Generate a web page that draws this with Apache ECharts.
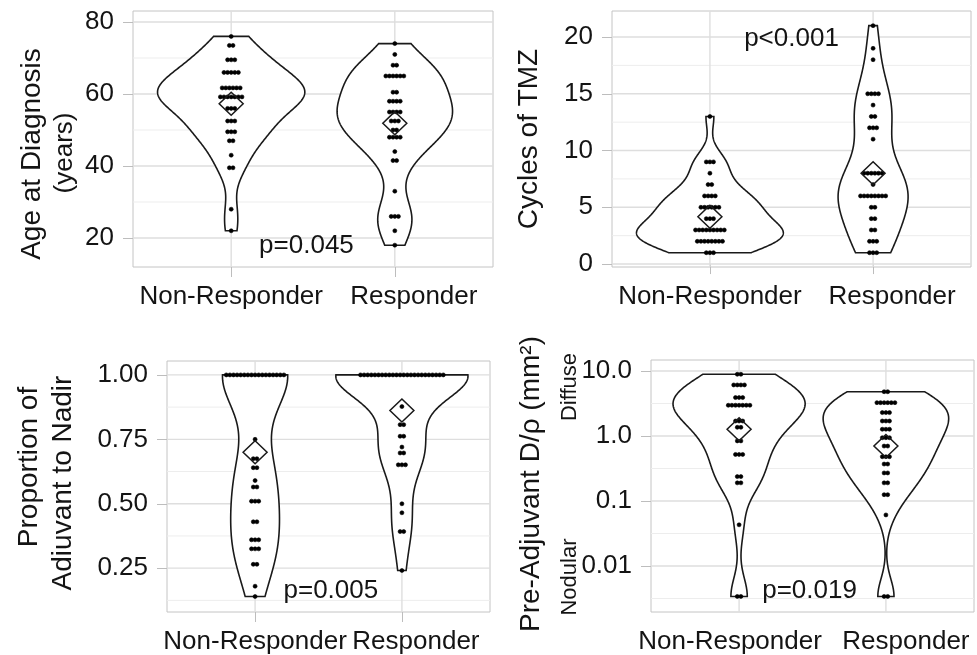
<!DOCTYPE html>
<html>
<head>
<meta charset="utf-8">
<title>Responders vs Non-Responders</title>
<script src="https://cdn.jsdelivr.net/npm/echarts@6/dist/echarts.min.js"></script>
<style>
  html, body { margin: 0; padding: 0; background: #fff; }
  #chart { width: 977px; height: 655px; }
</style>
</head>
<body>
<div id="chart"></div>
<script>
// x axis groups
const groups = ["Non-Responder", "Responder"];

// dot rows: row value + number of dots in that row
// Age at diagnosis (years)
const ageNR = [76, 73.5, 69.5, 66, 61.7, 59.2, 56, 52.5, 49.5, 47, 43, 39.5, 28, 22];
const ageNRn = [1, 2, 3, 5, 6, 7, 3, 3, 3, 2, 1, 2, 1, 1];
const ageR = [74, 71, 68, 65, 60.5, 58, 55, 52.5, 50, 48, 44, 41.5, 33, 26, 22, 18];
const ageRn = [1, 1, 2, 6, 2, 4, 4, 3, 2, 4, 1, 2, 1, 3, 1, 1];
const ageMean = [57.3, 51.9];
const ageTicks = [20, 40, 60, 80];

// Cycles of TMZ
const cycNR = [13, 9, 8, 7, 6, 5, 4, 3, 2, 1];
const cycNRn = [1, 3, 1, 2, 4, 6, 3, 9, 8, 3];
const cycR = [21, 19, 18, 15, 14, 13, 12, 11, 8, 7, 6, 5, 4, 3, 2, 1];
const cycRn = [1, 1, 1, 4, 1, 2, 3, 1, 6, 1, 8, 2, 2, 2, 3, 3];
const cycMean = [4.17, 8.0];
const cycTicks = [0, 5, 10, 15, 20];

// Proportion of adjuvant to nadir
const propNR = [1, 0.75, 0.675, 0.64, 0.59, 0.565, 0.51, 0.43, 0.36, 0.325, 0.265, 0.18, 0.14];
const propNRn = [17, 1, 2, 2, 1, 2, 3, 2, 3, 3, 2, 1, 1];
const propR = [1, 0.877, 0.807, 0.762, 0.72, 0.697, 0.651, 0.5, 0.465, 0.392, 0.241];
const propRn = [24, 1, 2, 2, 1, 2, 3, 1, 1, 2, 1];
const propMean = [0.70, 0.862];
const propTicks = [0.25, 0.5, 0.75, 1];

// Pre-adjuvant D/rho (mm2), log scale
const dNR = [8.9, 6.1, 3.9, 2.97, 1.7, 1.36, 0.84, 0.52, 0.237, 0.19, 0.043, 0.0034];
const dNRn = [2, 4, 3, 7, 3, 2, 2, 3, 2, 2, 1, 2];
const dR = [4.8, 3.26, 2.29, 1.7, 1.27, 0.94, 0.70, 0.48, 0.37, 0.27, 0.19, 0.125, 0.061, 0.0034];
const dRn = [2, 6, 3, 3, 3, 3, 2, 3, 2, 2, 2, 2, 1, 2];
const dMean = [1.27, 0.70];
const dTicks = [0.01, 0.1, 1, 10];

const pValues = ["p=0.045", "p<0.001", "p=0.005", "p=0.019"];

const FONT = "'Liberation Sans', Arial, Helvetica, sans-serif";
const TXT = "#141414";
const INK = "#1a1a1a";
const DOT_STEP = 3.6;
const X_MIN = 0.4, X_MAX = 2.6;

const ident = (v) => v;
const log10 = (v) => Math.log10(v);

function expand(rows, counts) {
  const out = [];
  rows.forEach((v, i) => { for (let j = 0; j < counts[i]; j++) out.push(v); });
  return out;
}

// gaussian kde with nrd0 bandwidth, trimmed to the data range (like geom_violin)
function kde(vals) {
  const n = vals.length;
  const s = vals.slice().sort((a, b) => a - b);
  const mean = s.reduce((a, b) => a + b, 0) / n;
  const sd = Math.sqrt(s.reduce((a, b) => a + (b - mean) * (b - mean), 0) / (n - 1));
  const q = (p) => { const h = (n - 1) * p, lo = Math.floor(h); return s[lo] + (h - lo) * (s[Math.min(lo + 1, n - 1)] - s[lo]); };
  let lo = Math.min(sd, (q(0.75) - q(0.25)) / 1.34);
  if (!(lo > 0)) lo = sd;
  const bw = 0.9 * lo * Math.pow(n, -0.2);
  const ys = [], ds = [];
  const steps = 240;
  for (let i = 0; i <= steps; i++) {
    const y = s[0] + (s[n - 1] - s[0]) * i / steps;
    let d = 0;
    for (const v of s) d += Math.exp(-0.5 * ((y - v) / bw) * ((y - v) / bw));
    ys.push(y);
    ds.push(d / (n * bw * Math.sqrt(2 * Math.PI)));
  }
  return { ys, ds };
}

const panels = [
  { grid: { left: 133, top: 11, width: 360, height: 256 }, yMin: 11.94, yMax: 83.06,
    nr: [ageNR, ageNRn], r: [ageR, ageRn], mean: ageMean, ticks: ageTicks, tf: ident,
    fmt: (v) => String(v), p: [1.46, 17.8], shift: [0, 19] },
  { grid: { left: 612, top: 11, width: 359, height: 256 }, yMin: -0.26, yMax: 22.29,
    nr: [cycNR, cycNRn], r: [cycR, cycRn], mean: cycMean, ticks: cycTicks, tf: ident,
    fmt: (v) => String(v), p: [1.5, 19.8], shift: [0, 19] },
  { grid: { left: 167, top: 361, width: 323, height: 252 }, yMin: 0.0799, yMax: 1.054,
    nr: [propNR, propNRn], r: [propR, propRn], mean: propMean, ticks: propTicks, tf: ident,
    fmt: (v) => v.toFixed(2), p: [1.516, 0.161], shift: [0, 14] },
  { grid: { left: 651, top: 360, width: 323, height: 252 }, yMin: -2.708, yMax: 1.169,
    nr: [dNR, dNRn], r: [dR, dRn], mean: dMean, ticks: dTicks, tf: log10,
    fmt: (v) => { const x = Math.pow(10, v); return x >= 0.1 ? x.toFixed(1) : x.toFixed(2); },
    p: [1.48, -2.377], shift: [-9, 20] }
];

const option = {
  animation: false,
  backgroundColor: "#fff",
  grid: [], xAxis: [], yAxis: [], series: [],
  graphic: []
};

panels.forEach((pn, k) => {
  option.grid.push(Object.assign({ show: true, borderColor: "#c4c4c4", borderWidth: 1, backgroundColor: "transparent" }, pn.grid));
  const yTicks = pn.ticks.map(pn.tf);
  const step = yTicks[1] - yTicks[0];
  const minor = [];
  for (let t = yTicks[0] - step / 2; t < pn.yMax; t += step) if (t > pn.yMin) minor.push(t);

  const richX = {};
  ["a", "b"].forEach((key, i) => {
    const sh = pn.shift[i];
    richX[key] = { fontSize: 26, fontFamily: FONT, color: TXT, padding: [0, sh < 0 ? -2 * sh : 0, 0, sh > 0 ? 2 * sh : 0] };
  });

  option.xAxis.push({
    type: "value", gridIndex: k, min: X_MIN, max: X_MAX,
    axisLine: { show: false }, splitLine: { show: false },
    axisTick: { show: true, length: 10, customValues: [1, 2], lineStyle: { color: "#bdbdbd" } },
    axisLabel: { customValues: [1, 2], margin: 17, fontSize: 26, fontFamily: FONT, color: TXT,
      formatter: (v) => v === 1 ? "{a|" + groups[0] + "}" : "{b|" + groups[1] + "}", rich: richX }
  });
  option.yAxis.push({
    type: "value", gridIndex: k, min: pn.yMin, max: pn.yMax,
    axisLine: { show: false }, splitLine: { show: false },
    axisTick: { show: true, length: 10, customValues: yTicks, lineStyle: { color: "#bdbdbd" } },
    axisLabel: { customValues: yTicks, margin: 19, fontSize: 26, fontFamily: FONT, color: TXT, formatter: pn.fmt }
  });

  // grid lines: [vertical?, value, major?]
  const lines = [];
  minor.forEach((t) => lines.push([0, t, 0]));
  yTicks.forEach((t) => lines.push([0, t, 1]));
  [1, 2].forEach((t) => lines.push([1, t, 1]));
  option.series.push({
    type: "custom", xAxisIndex: k, yAxisIndex: k, z: 1, silent: true,
    data: lines.map((l) => l[0] ? [l[1], pn.yMin, l[2], 1] : [X_MIN, l[1], l[2], 0]),
    renderItem: (params, api) => {
      const vert = api.value(3) === 1;
      const a = vert ? api.coord([api.value(0), pn.yMin]) : api.coord([X_MIN, api.value(1)]);
      const b = vert ? api.coord([api.value(0), pn.yMax]) : api.coord([X_MAX, api.value(1)]);
      const major = api.value(2) === 1;
      return { type: "line", shape: { x1: a[0], y1: a[1], x2: b[0], y2: b[1] },
        style: { stroke: major ? "#dedede" : "#ededed", lineWidth: major ? 1.4 : 1 } };
    }
  });

  // violins
  const sets = [expand(pn.nr[0], pn.nr[1]).map(pn.tf), expand(pn.r[0], pn.r[1]).map(pn.tf)];
  const dens = sets.map(kde);
  const maxD = Math.max(...dens.map((d) => Math.max(...d.ds)));
  const shapes = dens.map((d) => ({ ys: d.ys, w: d.ds.map((x) => 0.45 * x / maxD) }));
  option.series.push({
    type: "custom", xAxisIndex: k, yAxisIndex: k, z: 2, silent: true,
    data: [[1, shapes[0].ys[0]], [2, shapes[1].ys[0]]],
    renderItem: (params, api) => {
      const g = shapes[params.dataIndex];
      const c = api.value(0);
      const pts = [];
      for (let i = 0; i < g.ys.length; i++) pts.push(api.coord([c + g.w[i], g.ys[i]]));
      for (let i = g.ys.length - 1; i >= 0; i--) pts.push(api.coord([c - g.w[i], g.ys[i]]));
      return { type: "polygon", shape: { points: pts }, style: { fill: "#fff", stroke: INK, lineWidth: 1.6, opacity: 1 } };
    }
  });

  // dots, stacked sideways from the centre
  const dots = [];
  [pn.nr, pn.r].forEach((grp, gi) => {
    grp[0].forEach((v, i) => {
      const n = grp[1][i];
      for (let j = 0; j < n; j++) dots.push([gi + 1, pn.tf(v), j - (n - 1) / 2]);
    });
  });
  option.series.push({
    type: "custom", xAxisIndex: k, yAxisIndex: k, z: 3, silent: true, data: dots,
    renderItem: (params, api) => {
      const p = api.coord([api.value(0), api.value(1)]);
      return { type: "circle", shape: { cx: p[0] + api.value(2) * DOT_STEP, cy: p[1], r: 2 },
        style: { fill: "#000", stroke: "#000", lineWidth: 0.6, opacity: 1 } };
    }
  });

  // means
  option.series.push({
    type: "scatter", xAxisIndex: k, yAxisIndex: k, z: 4, silent: true,
    symbol: "diamond", symbolSize: [24, 23],
    itemStyle: { color: "rgba(0,0,0,0)", borderColor: INK, borderWidth: 1.5, opacity: 1 },
    data: [[1, pn.tf(pn.mean[0])], [2, pn.tf(pn.mean[1])]]
  });

  // p value
  option.series.push({
    type: "scatter", xAxisIndex: k, yAxisIndex: k, z: 5, silent: true,
    symbolSize: 1, itemStyle: { color: "rgba(0,0,0,0)", opacity: 1 },
    label: { show: true, position: "inside", formatter: pValues[k], fontSize: 26, fontFamily: FONT,
      color: TXT, textBorderWidth: 0, opacity: 1 },
    data: [pn.p]
  });
});

function yTitle(text, x, y, size) {
  return { type: "text", x: x, y: y, rotation: Math.PI / 2, silent: true,
    style: { text: text, font: size + "px " + FONT, fill: TXT, align: "center", verticalAlign: "middle" } };
}
option.graphic = [
  yTitle("Age at Diagnosis", 32, 154, 28),
  yTitle("(years)", 65, 153, 26),
  yTitle("Cycles of TMZ", 529, 139, 28),
  yTitle("Proportion of", 29, 467, 28),
  yTitle("Adiuvant to Nadir", 63, 483, 28),
  yTitle("Pre-Adjuvant D/\u03c1 (mm\u00b2)", 531, 484, 28),
  yTitle("Diffuse", 570, 387, 22),
  yTitle("Nodular", 570, 577, 22)
];

const chart = echarts.init(document.getElementById("chart"), null, { renderer: "canvas" });
chart.setOption(option);
</script>
</body>
</html>
